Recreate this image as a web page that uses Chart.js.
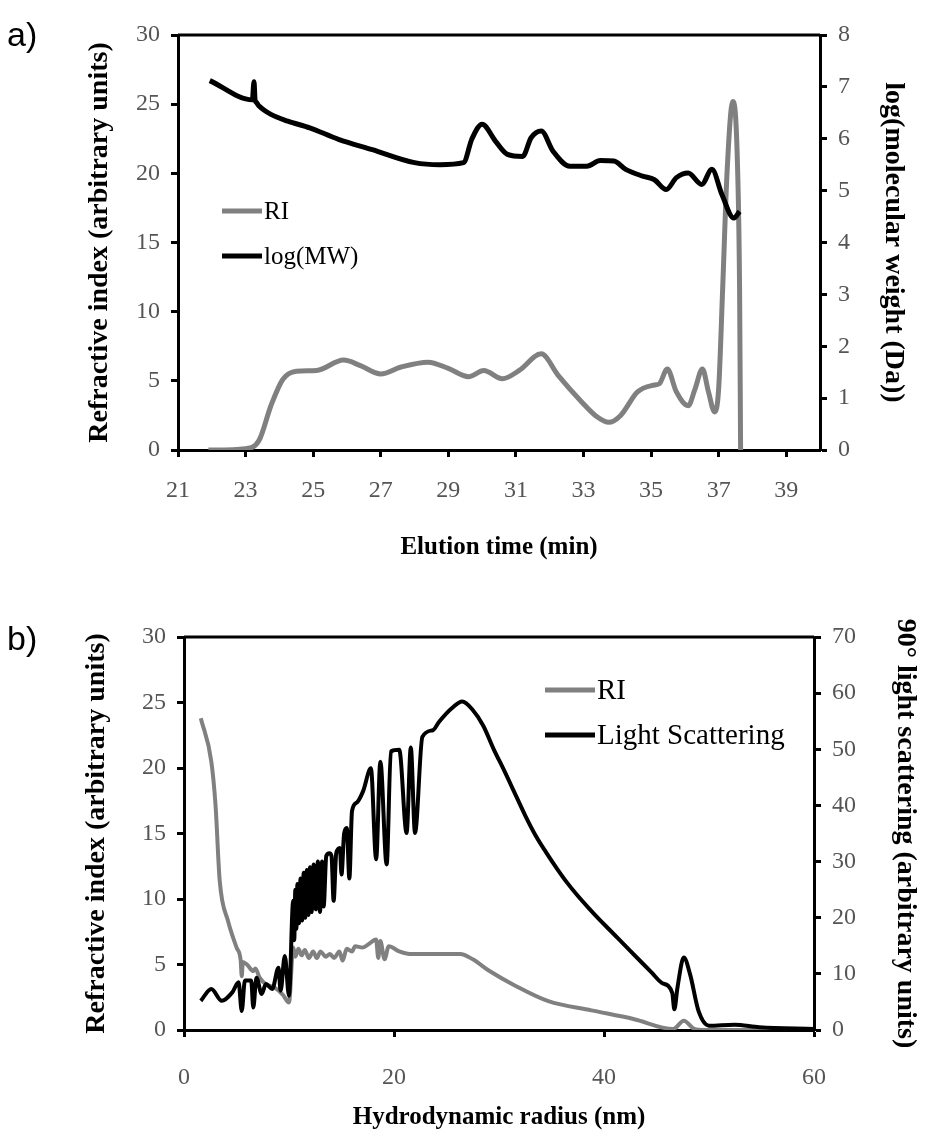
<!DOCTYPE html>
<html>
<head>
<meta charset="utf-8">
<script src="https://cdn.jsdelivr.net/npm/chart.js@4.4.0/dist/chart.umd.min.js"></script>
<style>
    body { margin: 0; background: #fff; width: 926px; height: 1143px; position: relative; overflow: hidden; }
    canvas { position: absolute; left: 0; }
    #chartA { top: 0; }
    #chartB { top: 580px; }
    .panel { position: absolute; left: 7px; font-family: 'Liberation Sans', Arial, sans-serif; font-size: 34px; line-height: 38px; }
</style>
</head>
<body>
<canvas id="chartA" width="926" height="580"></canvas>
<canvas id="chartB" width="926" height="563"></canvas>
<div class="panel" style="top: 15px;">a)</div>
<div class="panel" style="top: 619px;">b)</div>
<script>
// a) elution profile
var aTimeTicks = [21, 23, 25, 27, 29, 31, 33, 35, 37, 39];
var aRiTime = [21.9, 23.0, 23.4, 23.75, 24.1, 24.5, 25.1, 25.9, 26.4, 27.0, 27.6, 28.4, 29.0, 29.6, 30.05, 30.6, 31.1, 31.75, 32.25, 32.9, 33.4, 33.75, 34.1, 34.6, 35.1, 35.25, 35.48, 35.75, 36.1, 36.3, 36.52, 36.7, 36.88, 37.0, 37.12, 37.25, 37.42, 37.55, 37.62, 37.65];
var aRiValue = [0, 0.1, 0.7, 3.2, 5.1, 5.7, 5.75, 6.5, 6.1, 5.5, 6.0, 6.35, 5.9, 5.3, 5.75, 5.15, 5.75, 6.95, 5.4, 3.6, 2.4, 2.0, 2.5, 4.2, 4.7, 4.8, 5.85, 4.2, 3.2, 4.4, 5.85, 4.2, 2.75, 4.4, 11.7, 20.1, 25.2, 21.3, 11.7, 0];
var aMwTime = [21.94, 23.2, 23.25, 23.28, 23.32, 23.4, 23.75, 24.25, 24.9, 25.75, 26.75, 28.0, 28.75, 29.45, 29.7, 30.0, 30.4, 30.75, 31.2, 31.45, 31.75, 32.1, 32.6, 33.1, 33.5, 33.9, 34.25, 34.75, 35.1, 35.45, 35.75, 36.1, 36.5, 36.8, 37.1, 37.45, 37.62];
var aMwValue = [7.12, 6.75, 7.1, 6.75, 6.7, 6.63, 6.47, 6.34, 6.21, 5.99, 5.79, 5.54, 5.5, 5.54, 6.0, 6.28, 5.95, 5.7, 5.66, 6.02, 6.15, 5.76, 5.47, 5.47, 5.58, 5.57, 5.41, 5.28, 5.21, 5.02, 5.25, 5.34, 5.12, 5.41, 4.92, 4.47, 4.6];

// b) against hydrodynamic radius
var bRadiusTicks = [0, 20, 40, 60];
var bRiRadius = [1.6, 2.6, 3.0, 3.4, 4.2, 5.0, 5.4, 5.5, 5.6, 6.0, 6.6, 6.8, 7.2, 7.8, 8.6, 9.4, 10.0, 10.4, 10.6, 10.9, 11.2, 11.5, 11.9, 12.3, 12.65, 13.0, 13.5, 13.9, 14.3, 14.8, 15.1, 15.5, 16.0, 16.3, 17.0, 17.5, 18.3, 18.5, 18.7, 19.1, 19.5, 20.5, 21.5, 23.5, 26.3, 27.5, 29.1, 31.5, 34.7, 38.8, 42.8, 46.6, 47.6, 48.6, 49.6, 60];
var bRiValue = [23.8, 20.5, 17.2, 11.4, 8.3, 6.3, 5.3, 4.1, 5.2, 5.0, 4.5, 4.7, 4.0, 3.5, 3.25, 2.7, 2.1, 6.3, 5.6, 6.2, 5.7, 6.1, 5.5, 6.0, 5.5, 6.0, 5.6, 5.8, 5.5, 6.0, 5.3, 6.2, 6.0, 6.4, 6.3, 6.5, 6.9, 5.5, 6.8, 5.4, 6.4, 6.0, 5.8, 5.8, 5.8, 5.4, 4.5, 3.4, 2.2, 1.5, 0.84, 0.08, 0.7, 0.08, 0, 0];
var bLsRadius = [1.6, 2.6, 3.6, 4.6, 5.2, 5.5, 5.8, 6.4, 6.6, 6.9, 7.4, 7.8, 8.4, 9.0, 9.2, 9.6, 10.0, 10.4, 10.5, 10.6, 10.7, 10.8, 10.95, 11.1, 11.25, 11.4, 11.55, 11.7, 11.85, 12.0, 12.15, 12.35, 12.55, 12.75, 12.95, 13.15, 13.3, 13.55, 13.85, 14.05, 14.25, 14.5, 14.85, 15.0, 15.25, 15.5, 15.75, 16.0, 16.45, 17.05, 17.8, 18.3, 18.7, 19.3, 19.7, 20.5, 21.2, 21.6, 22.0, 22.7, 23.7, 24.3, 25.5, 26.5, 27.5, 28.5, 29.5, 30.5, 31.5, 32.5, 33.5, 34.5, 35.5, 36.5, 37.5, 38.5, 39.5, 40.5, 41.5, 42.5, 43.5, 44.5, 45.5, 46.5, 46.7, 47.0, 47.6, 48.2, 49.0, 50.0, 52.4, 54.8, 60];
var bLsValue = [5.2, 7.3, 5.2, 6.7, 8.5, 3.4, 8.8, 8.8, 4.0, 9.3, 6.4, 8.2, 7.3, 11.1, 7.0, 13.2, 6.1, 23, 16, 25, 18, 26, 19, 27, 19.5, 28, 20, 28.5, 20.5, 29, 21, 29.5, 21.5, 30, 21, 30, 22, 31, 31.5, 31, 23, 31.5, 32.4, 27.7, 35, 36, 27, 39, 40.5, 42.5, 46.6, 30.4, 47.8, 29.5, 49.6, 49.9, 35.1, 50.3, 35.1, 52.2, 53.4, 54.9, 57.3, 58.5, 57.0, 54.2, 50.0, 46.2, 42.2, 38.2, 34.6, 31.6, 28.8, 26.2, 23.9, 21.8, 19.8, 17.9, 16.0, 14.1, 12.2, 10.3, 8.4, 6.6, 3.7, 7.6, 12.9, 9.9, 3.4, 0.77, 0.95, 0.47, 0.18];

function pairs(xs, ys) {
    return xs.map(function (x, i) { return {x: x, y: ys[i]}; });
}

var tickFont = {family: "'Liberation Serif', serif", size: 24};
var titleFontH = {family: "'Liberation Serif', serif", size: 25, weight: 'bold'};
var titleFontV = {family: "'Liberation Serif', serif", size: 28, weight: 'bold'};

// top edge of the plot box
var boxFrame = {
    id: 'boxFrame',
    afterDatasetsDraw: function (chart) {
        var a = chart.chartArea, ctx = chart.ctx;
        ctx.save();
        ctx.strokeStyle = '#000';
        ctx.lineWidth = 3;
        ctx.beginPath();
        ctx.moveTo(a.left, a.top);
        ctx.lineTo(a.right, a.top);
        ctx.stroke();
        ctx.restore();
    }
};

// legend sitting inside the plot
var innerLegend = {
    id: 'innerLegend',
    afterDraw: function (chart, args, opts) {
        var ctx = chart.ctx;
        ctx.save();
        ctx.font = opts.font;
        ctx.textBaseline = 'middle';
        chart.data.datasets.forEach(function (ds, i) {
            var y = opts.y + i * opts.rowGap;
            ctx.strokeStyle = ds.borderColor;
            ctx.lineWidth = opts.lineWidth;
            ctx.beginPath();
            ctx.moveTo(opts.x, y);
            ctx.lineTo(opts.x + opts.lineLen, y);
            ctx.stroke();
            ctx.fillStyle = '#000';
            ctx.fillText(ds.label, opts.x + opts.lineLen + 2, y + 1);
        });
        ctx.restore();
    }
};

function axisX(min, max, tickValues, height, padTick, titleText, padTitle) {
    return {
        type: 'linear', position: 'bottom', min: min, max: max,
        afterBuildTicks: function (s) { s.ticks = tickValues.map(function (v) { return {value: v}; }); },
        afterFit: function (s) { s.height = height; },
        grid: {drawOnChartArea: false, tickLength: 7, tickWidth: 3, tickColor: '#000'},
        border: {color: '#000', width: 3},
        ticks: {padding: padTick, color: '#555', font: tickFont, maxRotation: 0, autoSkip: false},
        title: {display: true, text: titleText, color: '#000', font: titleFontH, padding: {top: 0, bottom: padTitle}}
    };
}

function axisY(pos, max, step, width, titleText, padTitle) {
    return {
        type: 'linear', position: pos, min: 0, max: max,
        afterFit: function (s) { s.width = width; },
        grid: {drawOnChartArea: false, tickLength: 7, tickWidth: 3, tickColor: '#000'},
        border: {color: '#000', width: 3},
        ticks: {stepSize: step, padding: 11, color: '#555', font: tickFont},
        title: {display: true, text: titleText, color: '#000', font: titleFontV, padding: {top: padTitle, bottom: 0}}
    };
}

var chartA = new Chart(document.getElementById('chartA'), {
    type: 'line',
    data: {
        datasets: [{
            label: 'RI',
            data: pairs(aRiTime, aRiValue),
            yAxisID: 'yRI',
            borderColor: '#808080',
            borderWidth: 5,
            pointRadius: 0,
            cubicInterpolationMode: 'monotone',
            order: 2
        }, {
            label: 'log(MW)',
            data: pairs(aMwTime, aMwValue),
            yAxisID: 'yMW',
            borderColor: '#000000',
            borderWidth: 5,
            pointRadius: 0,
            cubicInterpolationMode: 'monotone',
            order: 1
        }]
    },
    options: {
        responsive: false,
        animation: false,
        layout: {padding: {top: 35, left: 0, right: 0, bottom: 0}},
        scales: {
            x: axisX(21, 40, aTimeTicks, 130, 19, 'Elution time (min)', 17),
            yRI: axisY('left', 30, 5, 178, 'Refractive index (arbitrary units)', 83),
            yMW: axisY('right', 8, 1, 106, 'log(molecular weight (Da))', 16)
        },
        plugins: {
            legend: {display: false},
            tooltip: {enabled: false},
            innerLegend: {x: 222, y: 211, rowGap: 45, lineLen: 40, lineWidth: 5, font: "25px 'Liberation Serif', serif"}
        }
    },
    plugins: [boxFrame, innerLegend]
});

var chartB = new Chart(document.getElementById('chartB'), {
    type: 'line',
    data: {
        datasets: [{
            label: 'RI',
            data: pairs(bRiRadius, bRiValue),
            yAxisID: 'yRI',
            borderColor: '#808080',
            borderWidth: 4,
            pointRadius: 0,
            cubicInterpolationMode: 'monotone',
            order: 2
        }, {
            label: 'Light Scattering',
            data: pairs(bLsRadius, bLsValue),
            yAxisID: 'yLS',
            borderColor: '#000000',
            borderWidth: 4,
            pointRadius: 0,
            cubicInterpolationMode: 'monotone',
            order: 1
        }]
    },
    options: {
        responsive: false,
        animation: false,
        layout: {padding: {top: 57, left: 0, right: 0, bottom: 0}},
        scales: {
            x: axisX(0, 60, bRadiusTicks, 113, 26, 'Hydrodynamic radius (nm)', 10),
            yRI: axisY('left', 30, 5, 184, 'Refractive index (arbitrary units)', 80),
            yLS: axisY('right', 70, 10, 112, '90° light scattering (arbitrary units)', 4)
        },
        plugins: {
            legend: {display: false},
            tooltip: {enabled: false},
            innerLegend: {x: 545, y: 110, rowGap: 45, lineLen: 50, lineWidth: 5, font: "29px 'Liberation Serif', serif"}
        }
    },
    plugins: [boxFrame, innerLegend]
});
</script>
</body>
</html>
